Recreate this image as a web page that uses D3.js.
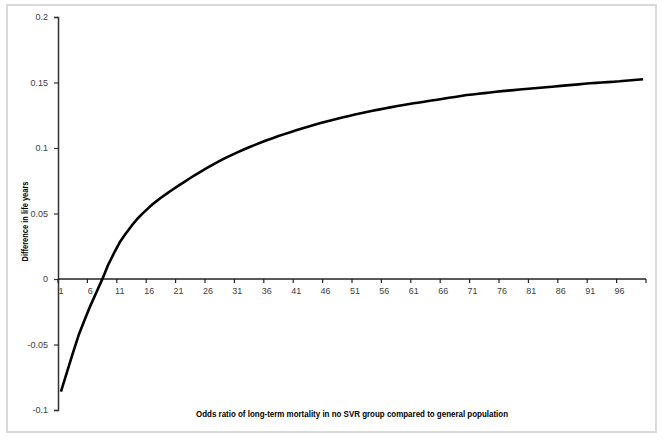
<!DOCTYPE html>
<html>
<head>
<meta charset="utf-8">
<script src="https://cdn.jsdelivr.net/npm/d3@7"></script>
<style>
  html, body { margin: 0; padding: 0; background: #fff; }
  svg { display: block; }
  text { font-family: "Liberation Sans", "DejaVu Sans", sans-serif; }
</style>
</head>
<body>
<div id="chart"></div>
<script>
// Categories (odds ratio 1..100)
const categories = d3.range(1, 101);
// Difference in life years
const values = [
  -0.086, -0.0715, -0.057, -0.043, -0.0315, -0.0205, -0.0105, -0.0005, 0.0105, 0.0195,
  0.028, 0.0345, 0.0405, 0.046, 0.0505, 0.0547, 0.0585, 0.062, 0.0652, 0.0683,
  0.0713, 0.0742, 0.0771, 0.0799, 0.0826, 0.0852, 0.0877, 0.0901, 0.0924, 0.0946,
  0.0967, 0.0987, 0.1006, 0.1024, 0.1042, 0.1059, 0.1075, 0.1091, 0.1106, 0.1121,
  0.1135, 0.1149, 0.1162, 0.1175, 0.1188, 0.12, 0.1212, 0.1223, 0.1234, 0.1245,
  0.1255, 0.1265, 0.1275, 0.1284, 0.1293, 0.1302, 0.131, 0.1318, 0.1326, 0.1334,
  0.1341, 0.1348, 0.1355, 0.1362, 0.1369, 0.1376, 0.1383, 0.139, 0.1397, 0.1404,
  0.1409, 0.1414, 0.1419, 0.1424, 0.1429, 0.1434, 0.1438, 0.1442, 0.1446, 0.145,
  0.1454, 0.1458, 0.1462, 0.1466, 0.147, 0.1474, 0.1478, 0.1482, 0.1486, 0.149,
  0.1494, 0.1497, 0.15, 0.1503, 0.1506, 0.1509, 0.1513, 0.1517, 0.1521, 0.1525
];
const xTickLabels = d3.range(1, 100, 5); // 1, 6, 11, ..., 96
const yTicks = [-0.1, -0.05, 0, 0.05, 0.1, 0.15, 0.2];
const xTitle = "Odds ratio of long-term mortality in no SVR group compared to general population";
const yTitle = "Difference in life years";

const W = 664, H = 441;
const mLeft = 58, mRight = 646, mTop = 17, mBottom = 410;

const svg = d3.select("#chart").append("svg").attr("width", W).attr("height", H);

// outer frame
svg.append("rect").attr("x", 7).attr("y", 5).attr("width", 649).attr("height", 427)
  .attr("fill", "#fff").attr("stroke", "#d9d9d9").attr("stroke-width", 2);

const x = d3.scaleBand().domain(categories).range([mLeft, mRight]).paddingInner(0).paddingOuter(0);
const y = d3.scaleLinear().domain([-0.1, 0.2]).range([mBottom, mTop]);

// Y axis
const yAxis = d3.axisLeft(y).tickValues(yTicks).tickSize(4).tickPadding(6)
  .tickFormat(d => d === 0 ? "0" : String(+d.toFixed(2)));
const gy = svg.append("g").attr("transform", `translate(${mLeft},0)`).call(yAxis);
gy.select(".domain").attr("stroke", "#333").attr("stroke-width", 1.5);
gy.selectAll(".tick line").attr("stroke", "#333").attr("stroke-width", 1.2);
gy.selectAll(".tick text").attr("font-size", 9).attr("fill", "#404040");

// X axis at y=0, ticks at boundaries every 5 categories
const boundaries = d3.range(0, 101, 5);
const gx = svg.append("g").attr("transform", `translate(0,${y(0)})`);
gx.append("line").attr("x1", mLeft).attr("x2", mRight).attr("y1", 0).attr("y2", 0)
  .attr("stroke", "#222").attr("stroke-width", 1.5);
gx.selectAll("line.tk").data(boundaries).join("line").attr("class", "tk")
  .attr("x1", d => mLeft + d * x.step()).attr("x2", d => mLeft + d * x.step())
  .attr("y1", 0).attr("y2", 4).attr("stroke", "#222").attr("stroke-width", 1.2);
gx.selectAll("text").data(xTickLabels).join("text")
  .attr("x", d => x(d) + x.bandwidth() / 2).attr("y", 15)
  .attr("text-anchor", "middle").attr("font-size", 9).attr("fill", "#404040")
  .attr("font-family", "'DejaVu Serif', 'Liberation Serif', serif")
  .text(d => d);

// Line
const line = d3.line()
  .x((d, i) => x(categories[i]) + x.bandwidth() / 2)
  .y(d => y(d));
svg.append("path").datum(values).attr("d", line)
  .attr("fill", "none").attr("stroke", "#000").attr("stroke-width", 2.6)
  .attr("stroke-linejoin", "round");

// Titles
svg.append("text").attr("x", (mLeft + mRight) / 2).attr("y", 417)
  .attr("text-anchor", "middle").attr("font-size", 9).attr("font-weight", "bold")
  .attr("textLength", 312).attr("lengthAdjust", "spacingAndGlyphs")
  .attr("fill", "#000").text(xTitle);
svg.append("text").attr("transform", `translate(28,${(mTop + mBottom) / 2 + 8}) rotate(-90)`)
  .attr("text-anchor", "middle").attr("font-size", 9).attr("font-weight", "bold")
  .attr("textLength", 80).attr("lengthAdjust", "spacingAndGlyphs")
  .attr("fill", "#000").text(yTitle);
</script>
</body>
</html>
